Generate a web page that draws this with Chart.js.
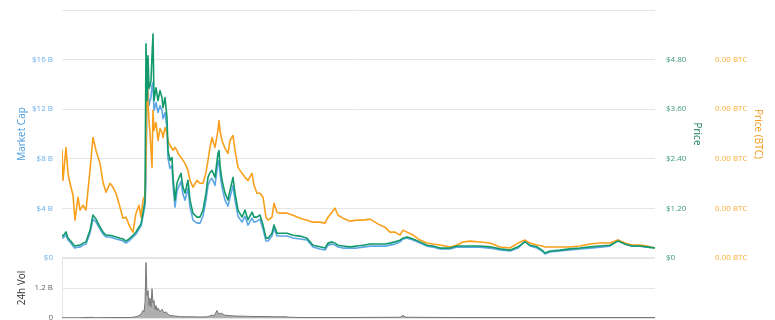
<!DOCTYPE html>
<html>
<head>
<meta charset="utf-8">
<script src="https://cdn.jsdelivr.net/npm/chart.js@4.4.1/dist/chart.umd.min.js"></script>
<style>
  html, body { margin: 0; padding: 0; background: #fff; overflow: hidden; }
  #wrap { position: relative; width: 775px; height: 320px; overflow: hidden; }
  #mainChart { position: absolute; left: 0; top: 0; }
  #volChart { position: absolute; left: 0; top: 250px; }
</style>
</head>
<body>
<div id="wrap">
  <canvas id="mainChart" width="775" height="264"></canvas>
  <canvas id="volChart" width="775" height="80"></canvas>
</div>
<script>
// day index since start of the chart
const days = [
    0, 2, 8, 12, 16, 22, 26, 32, 36, 42,
    48, 56, 62, 68, 76, 82, 88, 96, 102, 108,
    116, 122, 128, 136, 142, 148, 154, 158, 162, 166,
    168, 170, 172, 174, 176, 178, 180, 182, 184, 188,
    192, 196, 200, 202, 206, 210, 212, 216, 220, 222,
    226, 230, 232, 238, 242, 246, 252, 256, 262, 270,
    276, 282, 288, 292, 296, 300, 306, 312, 314, 316,
    320, 326, 332, 336, 342, 346, 352, 360, 366, 372,
    380, 384, 390, 396, 402, 408, 412, 420, 424, 430,
    436, 450, 462, 476, 490, 502, 516, 526, 532, 540,
    546, 552, 562, 576, 590, 602, 616, 626, 636, 646,
    656, 666, 676, 682, 690, 702, 716, 730, 742, 756,
    776, 790, 802, 816, 836, 856, 876, 896, 912, 926,
    936, 950, 960, 966, 976, 996, 1016, 1036, 1056, 1076,
    1096, 1112, 1126, 1140, 1156, 1170, 1186
];

// market cap, billions USD
const marketCap = [
    1.61, 1.61, 1.85, 1.45, 1.29, 0.96, 0.80, 0.88, 0.88, 1.04,
    1.12, 2.01, 3.13, 2.89, 2.33, 1.93, 1.69, 1.69, 1.61, 1.53,
    1.45, 1.37, 1.20, 1.45, 1.69, 1.93, 2.33, 2.57, 3.37, 4.26,
    6.27, 13.49, 13.65, 12.29, 12.69, 12.93, 13.90, 14.14, 11.89, 12.53,
    11.73, 12.29, 11.89, 11.24, 11.73, 10.44, 8.03, 7.23, 7.47, 5.94,
    4.10, 5.38, 5.62, 6.18, 5.14, 4.66, 5.62, 4.10, 3.05, 2.81,
    2.81, 3.37, 4.66, 5.86, 6.27, 6.43, 5.86, 7.71, 7.87, 6.83,
    5.70, 4.66, 4.18, 4.90, 5.86, 4.66, 3.37, 2.89, 3.37, 2.65,
    3.21, 2.89, 2.97, 3.13, 2.33, 1.37, 1.37, 1.77, 2.41, 1.77,
    1.77, 1.77, 1.61, 1.53, 1.45, 0.88, 0.72, 0.64, 1.04, 1.12,
    1.04, 0.88, 0.80, 0.80, 0.80, 0.88, 0.96, 0.96, 0.96, 0.96,
    1.04, 1.12, 1.29, 1.53, 1.61, 1.45, 1.20, 0.96, 0.88, 0.72,
    0.72, 0.88, 0.88, 0.88, 0.88, 0.80, 0.64, 0.56, 0.80, 1.37,
    0.96, 0.80, 0.56, 0.32, 0.48, 0.56, 0.64, 0.72, 0.80, 0.88,
    0.96, 1.45, 1.12, 0.96, 0.96, 0.88, 0.80
];

// price, USD
const priceUsd = [
    0.55, 0.53, 0.63, 0.48, 0.43, 0.34, 0.29, 0.31, 0.31, 0.36,
    0.39, 0.67, 1.04, 0.94, 0.75, 0.63, 0.55, 0.55, 0.53, 0.51,
    0.48, 0.46, 0.41, 0.48, 0.55, 0.63, 0.75, 0.82, 1.08, 1.40,
    5.18, 3.81, 4.89, 4.10, 4.17, 4.29, 4.89, 5.42, 3.81, 4.12,
    3.81, 4.05, 3.88, 3.64, 3.88, 3.40, 2.60, 2.36, 2.43, 1.95,
    1.40, 1.81, 1.88, 2.05, 1.71, 1.57, 1.88, 1.40, 1.08, 0.99,
    0.99, 1.16, 1.57, 1.95, 2.07, 2.12, 1.95, 2.53, 2.60, 2.24,
    1.88, 1.57, 1.40, 1.64, 1.95, 1.57, 1.16, 0.99, 1.16, 0.92,
    1.11, 0.99, 0.99, 1.04, 0.80, 0.48, 0.48, 0.60, 0.80, 0.60,
    0.60, 0.60, 0.55, 0.53, 0.48, 0.31, 0.27, 0.24, 0.36, 0.39,
    0.36, 0.31, 0.29, 0.27, 0.29, 0.31, 0.34, 0.34, 0.34, 0.34,
    0.36, 0.39, 0.43, 0.48, 0.51, 0.46, 0.39, 0.31, 0.29, 0.24,
    0.24, 0.29, 0.29, 0.29, 0.29, 0.27, 0.22, 0.19, 0.27, 0.39,
    0.31, 0.27, 0.19, 0.12, 0.17, 0.19, 0.22, 0.24, 0.27, 0.29,
    0.31, 0.41, 0.34, 0.29, 0.29, 0.27, 0.24
];

// price in BTC, stored as satoshi
const priceSat = [
    21690, 15660, 22290, 17070, 15060, 12650, 7630, 12250, 9640, 10640,
    9640, 17670, 24300, 21690, 19080, 15260, 13250, 15060, 14260, 13050,
    10240, 8030, 8230, 6220, 5220, 9040, 10640, 8230, 11650, 12650,
    19680, 40360, 31120, 27710, 25100, 21690, 18270, 29720, 25700, 27310,
    23690, 26100, 25300, 24300, 26300, 25100, 23690, 22690, 22090, 21690,
    22290, 21690, 21080, 20280, 19680, 19080, 17670, 15660, 14260, 15660,
    15060, 15060, 17270, 19680, 22290, 24300, 22290, 25700, 27710, 25700,
    23690, 22090, 21080, 23690, 24700, 21690, 18270, 17070, 16260, 15660,
    17070, 14660, 13050, 13050, 12250, 8230, 7630, 8230, 11040, 9240,
    9040, 9040, 8630, 8030, 7630, 7230, 7230, 7030, 8230, 9240,
    10040, 8630, 8030, 7430, 7630, 7630, 7830, 7230, 6630, 6220,
    5220, 5220, 4620, 5620, 5220, 4620, 3610, 3010, 2810, 2610,
    2210, 2610, 3210, 3410, 3210, 3010, 2210, 2010, 3010, 3610,
    3010, 2610, 2410, 2210, 2210, 2210, 2210, 2410, 2810, 3010,
    3010, 3610, 3010, 2610, 2610, 2410, 2010
];

// 24h volume, billions USD
const volDays = [
    0, 36, 60, 66, 96, 136, 148, 154, 158, 162,
    164, 166, 168, 170, 172, 174, 176, 178, 180, 182,
    184, 186, 188, 190, 192, 196, 200, 204, 208, 212,
    216, 226, 236, 256, 276, 292, 300, 304, 310, 314,
    318, 324, 332, 346, 366, 386, 406, 426, 446, 456,
    476, 576, 676, 682, 688, 776, 876, 976, 1076, 1186
];
const volume = [
    0.01, 0.01, 0.03, 0.01, 0.02, 0.02, 0.05, 0.1, 0.15, 0.3,
    0.25, 0.6, 2.22, 0.9, 1.1, 0.5, 0.8, 0.45, 1.17, 0.6,
    0.7, 0.35, 0.5, 0.3, 0.4, 0.25, 0.35, 0.2, 0.25, 0.15,
    0.1, 0.08, 0.05, 0.05, 0.04, 0.05, 0.12, 0.08, 0.3, 0.15,
    0.2, 0.12, 0.1, 0.08, 0.07, 0.06, 0.06, 0.05, 0.05, 0.03,
    0.02, 0.02, 0.03, 0.1, 0.03, 0.02, 0.02, 0.02, 0.02, 0.02
];

const BLUE = '#5ea6e6';
const GREEN = '#129a6b';
const ORANGE = '#f8a01c';
const GRID = '#e6e6e6';
const FONT = 'Open Sans';

const pts = (xs, ys) => xs.map((x, i) => ({ x: x, y: ys[i] }));
const tickFont = { family: FONT, size: 8 };
const titleFont = { family: FONT, size: 10 };

function fixWidth(w) {
    return s => {
        s.width = w;
        s.paddingTop = 0;
        s.paddingBottom = 0;
    };
}

// nudge the layout padding until the plot area sits where we want it
function pinArea(chart, top, bottom) {
    for (let i = 0; i < 3; i++) {
        const ca = chart.chartArea;
        const pad = chart.options.layout.padding;
        const dt = top - ca.top;
        const db = ca.bottom - bottom;
        if (Math.abs(dt) < 0.5 && Math.abs(db) < 0.5) break;
        pad.top += dt;
        pad.bottom += db;
        chart.update('none');
    }
}

function renderMain() {
    const canvas = document.getElementById('mainChart');
    if (!canvas) return;

    const chart = new Chart(canvas, {
        type: 'line',
        data: {
            datasets: [
                {
                    label: 'Market Cap',
                    data: pts(days, marketCap),
                    yAxisID: 'cap',
                    borderColor: BLUE,
                    order: 3,
                },
                {
                    label: 'Price (BTC)',
                    data: pts(days, priceSat),
                    yAxisID: 'btc',
                    borderColor: ORANGE,
                    order: 2,
                },
                {
                    label: 'Price',
                    data: pts(days, priceUsd),
                    yAxisID: 'usd',
                    borderColor: GREEN,
                    order: 1,
                },
            ],
        },
        options: {
            responsive: false,
            animation: false,
            layout: { padding: { top: 10, bottom: 6, left: 0, right: 0 } },
            elements: {
                line: { borderWidth: 1.6, tension: 0, borderJoinStyle: 'round', borderCapStyle: 'round' },
                point: { radius: 0 },
            },
            plugins: { legend: { display: false }, tooltip: { enabled: false } },
            scales: {
                x: { type: 'linear', display: false, min: 0, max: 1186 },
                cap: {
                    position: 'left',
                    min: 0,
                    max: 20,
                    afterFit: fixWidth(62),
                    border: { display: false },
                    grid: {
                        drawTicks: false,
                        color: GRID,
                        lineWidth: c => (c.tick && c.tick.value === 0 ? 2 : 1),
                    },
                    ticks: {
                        stepSize: 4,
                        padding: 9,
                        color: '#6aaee8',
                        font: tickFont,
                        callback: v => (v === 20 ? '' : v === 0 ? '$0' : '$' + v + ' B'),
                    },
                    title: {
                        display: true,
                        text: 'Market Cap',
                        color: '#4a9de0',
                        font: titleFont,
                        padding: { top: 16, bottom: 0 },
                    },
                },
                usd: {
                    position: 'right',
                    weight: 1,
                    min: 0,
                    max: 6,
                    afterFit: fixWidth(50),
                    border: { display: false },
                    grid: { display: false, drawTicks: false },
                    ticks: {
                        stepSize: 1.2,
                        padding: 11,
                        color: '#3c9c74',
                        font: tickFont,
                        callback: v => (Math.abs(v - 6) < 1e-6 ? '' : v === 0 ? '$0' : '$' + v.toFixed(2)),
                    },
                    title: {
                        display: true,
                        text: 'Price',
                        color: '#1a7d55',
                        font: titleFont,
                        padding: { top: 2, bottom: 0 },
                    },
                },
                btc: {
                    position: 'right',
                    weight: 2,
                    min: 0,
                    max: 50000,
                    afterFit: fixWidth(70),
                    border: { display: false },
                    grid: { display: false, drawTicks: false },
                    ticks: {
                        stepSize: 10000,
                        padding: 10,
                        color: '#f9ac3c',
                        font: tickFont,
                        callback: v => (v === 50000 ? '' : (v / 1e8).toFixed(2) + ' BTC'),
                    },
                    title: {
                        display: true,
                        text: 'Price (BTC)',
                        color: '#f39a1e',
                        font: titleFont,
                        padding: { top: 11, bottom: 0 },
                    },
                },
            },
        },
    });
    pinArea(chart, 10, 258);
}

function renderVolume() {
    const canvas = document.getElementById('volChart');
    if (!canvas) return;

    const chart = new Chart(canvas, {
        type: 'line',
        data: {
            datasets: [
                {
                    label: '24h Vol',
                    data: pts(volDays, volume),
                    yAxisID: 'vol',
                    borderColor: '#777',
                    backgroundColor: 'rgba(110, 110, 110, 0.55)',
                    borderWidth: 1,
                    fill: 'origin',
                    tension: 0,
                    pointRadius: 0,
                },
            ],
        },
        options: {
            responsive: false,
            animation: false,
            layout: { padding: { top: 8, bottom: 12, left: 0, right: 120 } },
            plugins: { legend: { display: false }, tooltip: { enabled: false } },
            scales: {
                x: { type: 'linear', display: false, min: 0, max: 1186 },
                vol: {
                    position: 'left',
                    min: 0,
                    max: 2.4,
                    afterFit: fixWidth(62),
                    border: { display: true, color: GRID, width: 1 },
                    grid: { drawTicks: false, color: GRID },
                    ticks: {
                        stepSize: 1.2,
                        padding: 9,
                        color: '#666',
                        font: tickFont,
                        callback: v => (v === 0 ? '0' : Math.abs(v - 2.4) < 1e-6 ? '' : v.toFixed(1) + ' B'),
                    },
                    title: {
                        display: true,
                        text: '24h Vol',
                        color: '#333',
                        font: titleFont,
                        padding: { top: 16, bottom: 0 },
                    },
                },
            },
        },
    });
    // plot area of the volume panel, in canvas pixels (canvas starts at page y 250)
    pinArea(chart, 8, 68);
}

renderMain();
renderVolume();
</script>
</body>
</html>
